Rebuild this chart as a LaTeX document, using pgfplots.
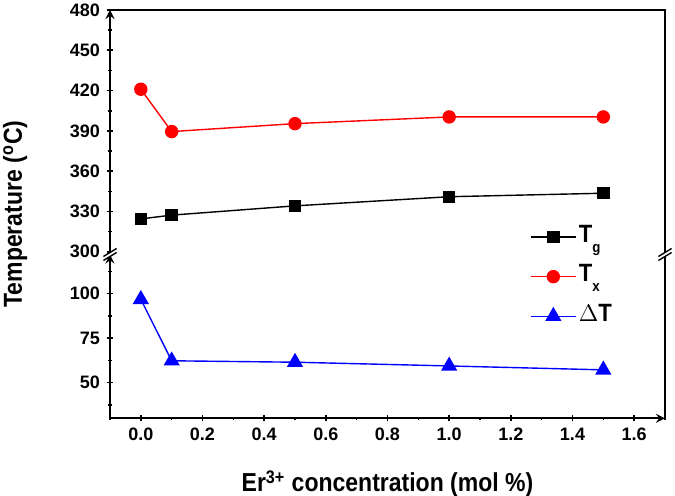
\documentclass[border=0pt]{standalone}
\usepackage{fontspec}
\setmainfont{Liberation Sans}
\newfontfamily\labelfont[FakeStretch=0.885]{Liberation Sans}
\usepackage{pgfplots}
\pgfplotsset{compat=1.18}

\newcommand{\lowsub}[1]{\raisebox{-5pt}{\fontsize{7.5}{8}\selectfont #1}}

\pgfplotsset{
  brokenaxis/.style={
    width=277.5pt, scale only axis, clip=false,
    xmin=-0.1, xmax=1.7,
    axis line style={-, line width=1pt},
    tick align=outside,
    major tick length=3pt, minor tick length=1.7pt,
    tick style={line width=0.8pt, black},
    /pgf/number format/assume math mode=true,
    tick label style={font=\fontsize{9}{10}\selectfont\bfseries},
    label style={font=\labelfont\fontsize{13}{15}\selectfont\bfseries},
  },
}

\begin{document}
\begin{tikzpicture}
% upper part, 298-480
\begin{axis}[brokenaxis, at={(0pt,81.9pt)}, height=122.25pt,
    ymin=298, ymax=480,
    axis x line=none, axis y line=left,
    ytick={300,330,...,480}, minor ytick={315,345,...,465},
  ]
  \addplot[black, line width=0.7pt, mark=square*, mark size=2.75pt] coordinates {
    (0,324.5) (0.1,327.3) (0.5,334.2) (1.0,341.0) (1.5,343.6)};
  \addplot[red, line width=0.7pt, mark=*, mark size=3pt] coordinates {
    (0,421.0) (0.1,389.5) (0.5,395.4) (1.0,400.4) (1.5,400.4)};
  \draw[line width=1pt] (rel axis cs:0,1) -- (rel axis cs:1,1) -- (rel axis cs:1,0);
\end{axis}
% lower part, 30-122
\begin{axis}[brokenaxis, at={(0pt,0pt)}, height=81.9pt,
    ymin=30, ymax=122,
    axis x line=bottom, axis y line=left,
    ytick={50,75,100}, minor ytick={37.5,62.5,87.5,112.5},
    xtick={0,0.2,...,1.6}, minor xtick={-0.1,0.1,0.3,0.5,0.7,0.9,1.1,1.3,1.5,1.7},
    xticklabel style={/pgf/number format/.cd, fixed, fixed zerofill, precision=1},
    xlabel={Er\textsuperscript{3+} concentration (mol \%)},
    ylabel={Temperature (\textsuperscript{o}C)},
    xlabel style={at={(axis description cs:0.5,-0.40)}, anchor=center},
    ylabel style={at={(axis description cs:-0.171,1.247)}, anchor=center},
    legend style={draw=none, fill=none, at={(rel axis cs:0.745,1.225)}, anchor=north west,
      font=\labelfont\fontsize{12.5}{14}\selectfont\bfseries,
      nodes={inner sep=1pt, text height=9pt, text depth=4pt}, row sep=4.8pt},
    legend cell align=left,
    legend image code/.code={\draw[mark repeat=2, mark phase=2] plot coordinates {(0cm,0cm) (0.4cm,0cm) (0.8cm,0cm)};},
  ]
  \addlegendimage{black, line width=0.7pt, mark=square*, mark size=2.75pt}
  \addlegendentry{T\lowsub{g}}
  \addlegendimage{red, line width=0.7pt, mark=*, mark size=3pt}
  \addlegendentry{T\lowsub{x}}
  \addplot[blue, line width=0.7pt, mark=triangle*, mark size=4pt] coordinates {
    (0,96.8) (0.1,62.3) (0.5,61.5) (1.0,59.4) (1.5,57.2)};
  \addlegendentry{$\Delta$T}
  \draw[line width=1pt] (rel axis cs:1,0) -- (rel axis cs:1,1);
\end{axis}
% break marks
\foreach \x in {0pt,277.5pt} {
  \fill[white] (\x-3.3pt,81.9pt-3pt) -- (\x+3.3pt,81.9pt+1pt) -- (\x+3.3pt,81.9pt+3pt) -- (\x-3.3pt,81.9pt-1pt) -- cycle;
  \draw[line width=0.7pt] (\x-3.3pt,81.9pt-3pt) -- (\x+3.3pt,81.9pt+1pt);
  \draw[line width=0.7pt] (\x-3.3pt,81.9pt-1pt) -- (\x+3.3pt,81.9pt+3pt);
}
\pgfresetboundingbox
\path[use as bounding box] (-55pt,-38.85pt) rectangle (282.5pt,209.15pt);
\end{tikzpicture}
\end{document}
